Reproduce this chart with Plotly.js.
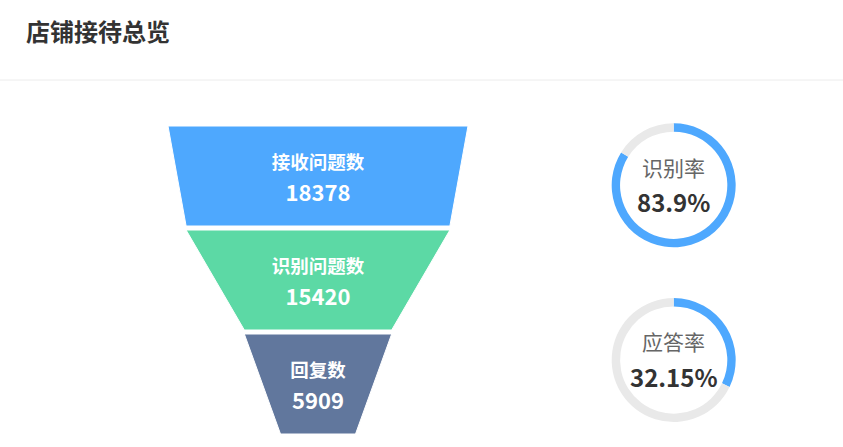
<!DOCTYPE html>
<html>
<head>
<meta charset="utf-8">
<script src="https://cdn.plot.ly/plotly-3.0.1.min.js"></script>
<style>
  html, body { margin: 0; padding: 0; background: #fff; }
  #plot { width: 843px; height: 447px; }
</style>
</head>
<body>
<div id="plot"></div>
<script>
var stages = ["接收问题数", "识别问题数", "回复数"];
var counts = [18378, 15420, 5909];
var stageColors = ["#4ea8fe", "#5cd9a5", "#61779d"];

var rateNames = ["识别率", "应答率"];
var rates = [83.9, 32.15];
var rateLabels = ["83.9%", "32.15%"];

var FONT = "Noto Sans CJK SC, Noto Sans, sans-serif";

// funnel like echarts: width scales from minSize (25%) to full size
var maxVal = Math.max.apply(null, counts);
var minSize = 0.25 * maxVal;
var gap = 0.04;

function segWidth(v) {
    return minSize + (v / maxVal) * (maxVal - minSize);
}

var data = [];

counts.forEach(function (v, i) {
    var next = i + 1 < counts.length ? counts[i + 1] : 0;
    var wt = segWidth(v) / 2;
    var wb = segWidth(next) / 2;
    var y0 = i * (1 + gap);
    var y1 = y0 + 1;
    data.push({
        x: [-wt, wt, wb, -wb, -wt],
        y: [y0, y0, y1, y1, y0],
        type: "scatter",
        mode: "lines",
        fill: "toself",
        fillcolor: stageColors[i],
        line: {color: "#ffffff", width: 1},
        hoverinfo: "skip",
        showlegend: false
    });
});

// stage names and numbers
data.push({
    x: stages.map(function () { return 0; }),
    y: stages.map(function (s, i) { return i * (1 + gap) + 0.385; }),
    text: stages,
    type: "scatter",
    mode: "text",
    textfont: {family: FONT, size: 18.5, color: "#ffffff", weight: "bold"},
    hoverinfo: "skip",
    showlegend: false
});
data.push({
    x: counts.map(function () { return 0; }),
    y: counts.map(function (c, i) { return i * (1 + gap) + 0.69; }),
    text: counts.map(String),
    type: "scatter",
    mode: "text",
    textfont: {family: FONT, size: 22, color: "#ffffff", weight: "bold"},
    hoverinfo: "skip",
    showlegend: false
});

// rate rings
var ringX = [0.7256, 0.8727];
var ringY = [[0.4468, 0.7242], [0.0559, 0.3333]];
var annotations = [];

rates.forEach(function (r, i) {
    data.push({
        type: "pie",
        values: [r, 100 - r],
        marker: {colors: ["#4ea8fe", "#e9e9e9"], line: {width: 0}},
        hole: 0.865,
        sort: false,
        direction: "clockwise",
        rotation: 0,
        textinfo: "none",
        hoverinfo: "skip",
        showlegend: false,
        domain: {x: ringX, y: ringY[i]}
    });
    var cy = (ringY[i][0] + ringY[i][1]) / 2;
    annotations.push({
        xref: "paper", yref: "paper",
        x: 0.7992, y: cy + 0.042,
        text: rateNames[i],
        showarrow: false,
        xanchor: "center", yanchor: "middle",
        font: {family: FONT, size: 21, color: "#666666"}
    });
    annotations.push({
        xref: "paper", yref: "paper",
        x: 0.7992, y: cy - 0.036,
        text: rateLabels[i],
        showarrow: false,
        xanchor: "center", yanchor: "middle",
        font: {family: FONT, size: 24, color: "#333333", weight: "bold"}
    });
});

var layout = {
    width: 843,
    height: 447,
    margin: {l: 0, r: 0, t: 0, b: 0},
    paper_bgcolor: "#ffffff",
    plot_bgcolor: "rgba(0,0,0,0)",
    title: {
        text: "店铺接待总览",
        xref: "paper", yref: "paper",
        x: 26 / 843, xanchor: "left",
        y: 1 - 33 / 447, yanchor: "middle",
        font: {family: FONT, size: 24, color: "#333333", weight: "bold"}
    },
    xaxis: {
        domain: [168 / 843, 468 / 843],
        range: [-maxVal / 2, maxVal / 2],
        visible: false, fixedrange: true
    },
    yaxis: {
        domain: [13 / 447, 321 / 447],
        range: [3 + 2 * gap, 0],
        visible: false, fixedrange: true
    },
    shapes: [{
        type: "line", xref: "paper", yref: "paper",
        x0: 0, x1: 1, y0: 1 - 80 / 447, y1: 1 - 80 / 447,
        line: {color: "#ececec", width: 1}
    }],
    annotations: annotations
};

Plotly.newPlot("plot", data, layout, {displayModeBar: false, staticPlot: true});
</script>
</body>
</html>
